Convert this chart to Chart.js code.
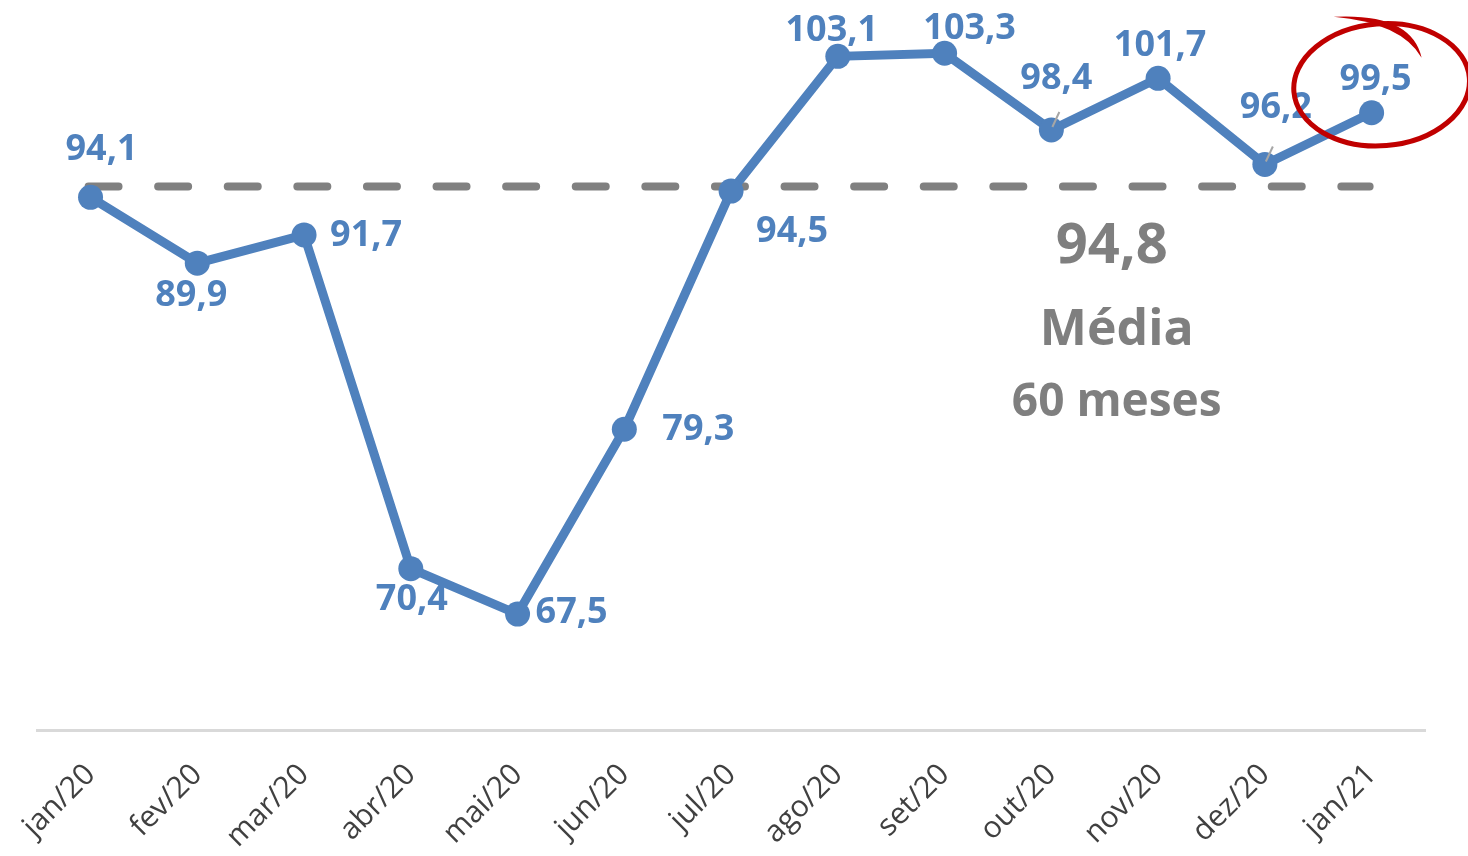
<!DOCTYPE html>
<html>
<head>
<meta charset="utf-8">
<script src="https://cdn.jsdelivr.net/npm/chart.js@4.4.1/dist/chart.umd.min.js"></script>
<style>
  html, body { margin: 0; padding: 0; background: #fff; }
  #wrap { width: 1468px; height: 856px; position: relative; }
</style>
</head>
<body>
<div id="wrap"><canvas id="chart" width="1468" height="856"></canvas></div>
<script>
const months = ['jan/20', 'fev/20', 'mar/20', 'abr/20', 'mai/20', 'jun/20', 'jul/20', 'ago/20', 'set/20', 'out/20', 'nov/20', 'dez/20', 'jan/21']
const values = [94.1, 89.9, 91.7, 70.4, 67.5, 79.3, 94.5, 103.1, 103.3, 98.4, 101.7, 96.2, 99.5]
const average = 94.8
const averageLines = ['94,8', 'Média', '60 meses']

// label placement relative to each point (dx, dy)
const labelOffsets = [
  [11, -48], [-6, 33], [62, 1], [1, 31], [54, -1], [74, 1], [61, 41],
  [-6, -26], [25, -24], [5, -51], [2, -33], [11, -57], [4, -33]
]
const leaderLines = [9, 11]

const blue = '#4F81BD'
const grey = '#7F7F7F'
const fmt = v => v.toFixed(1).replace('.', ',')

const overlayPlugin = {
  id: 'overlay',
  beforeDatasetsDraw(chart) {
    const { ctx, scales: { x, y } } = chart
    const yAvg = y.getPixelForValue(average)
    ctx.save()
    ctx.strokeStyle = '#808080'
    ctx.lineWidth = 8
    ctx.lineCap = 'round'
    ctx.setLineDash([30, 39.6])
    ctx.beginPath()
    ctx.moveTo(x.getPixelForValue(0) - 2, yAvg)
    ctx.lineTo(x.getPixelForValue(months.length - 1) - 2, yAvg)
    ctx.stroke()
    ctx.restore()
  },
  afterDatasetsDraw(chart) {
    const { ctx, scales: { x, y } } = chart
    const meta = chart.getDatasetMeta(0)
    ctx.save()
    ctx.font = 'bold 36px "Open Sans"'
    ctx.fillStyle = blue
    ctx.textAlign = 'center'
    ctx.textBaseline = 'middle'
    meta.data.forEach((pt, i) => {
      const [dx, dy] = labelOffsets[i]
      ctx.fillText(fmt(values[i]), pt.x + dx, pt.y + dy)
    })
    // small leader lines
    ctx.strokeStyle = '#A6A6A6'
    ctx.lineWidth = 2
    leaderLines.forEach(i => {
      const pt = meta.data[i]
      ctx.beginPath()
      ctx.moveTo(pt.x + 1, pt.y - 3)
      ctx.lineTo(pt.x + 8, pt.y - 18)
      ctx.stroke()
    })

    // average annotation
    const cx = (x.getPixelForValue(9) + x.getPixelForValue(10)) / 2 + 12
    ctx.fillStyle = grey
    ctx.font = 'bold 56px "Open Sans"'
    ctx.fillText(averageLines[0], cx - 5, 247)
    ctx.font = 'bold 50px "Open Sans"'
    ctx.fillText(averageLines[1], cx, 331)
    ctx.font = 'bold 46px "Open Sans"'
    ctx.fillText(averageLines[2], cx, 403)

    // red highlight around the last value
    const last = meta.data[meta.data.length - 1]
    ctx.strokeStyle = '#C00000'
    ctx.lineWidth = 5
    ctx.beginPath()
    ctx.ellipse(last.x + 10, last.y - 28, 88, 61, -0.08, 0, Math.PI * 2)
    ctx.stroke()
    ctx.fillStyle = '#C00000'
    ctx.beginPath()
    ctx.moveTo(last.x - 38, last.y - 96)
    ctx.quadraticCurveTo(last.x + 40, last.y - 100, last.x + 50, last.y - 55)
    ctx.quadraticCurveTo(last.x + 30, last.y - 90, last.x - 38, last.y - 96)
    ctx.fill()
    ctx.restore()
  }
}

new Chart(document.getElementById('chart').getContext('2d'), {
  type: 'line',
  data: {
    labels: months,
    datasets: [{
      data: values,
      borderColor: blue,
      backgroundColor: blue,
      borderWidth: 9,
      pointRadius: 12.5,
      pointHoverRadius: 12.5,
      pointBackgroundColor: blue,
      pointBorderWidth: 0,
      tension: 0
    }]
  },
  options: {
    responsive: false,
    animation: false,
    layout: { padding: { left: 35, right: 43, top: 0, bottom: 0 } },
    plugins: { legend: { display: false }, tooltip: { enabled: false } },
    scales: {
      x: {
        offset: true,
        grid: { display: false, drawTicks: false },
        border: { display: true, color: '#D9D9D9', width: 3 },
        afterFit(scale) { scale.height = 126 },
        ticks: {
          autoSkip: false,
          minRotation: 45,
          maxRotation: 45,
          padding: 27,
          color: '#404040',
          font: { family: 'Open Sans', size: 30 }
        }
      },
      y: {
        display: false,
        min: 60.1,
        max: 105.9
      }
    }
  },
  plugins: [overlayPlugin]
})
</script>
</body>
</html>
